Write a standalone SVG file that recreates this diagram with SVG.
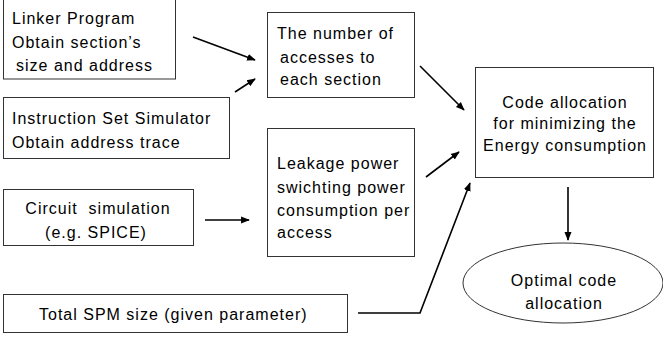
<svg xmlns="http://www.w3.org/2000/svg" width="663" height="340" viewBox="0 0 663 340">
<style>
.box{fill:#fff;stroke:#333;stroke-width:1}
.t{font-family:"Liberation Sans",Arial,sans-serif;font-size:16px;fill:#000;letter-spacing:1px}
.c{text-anchor:middle}
.ln{fill:none;stroke:#000;stroke-width:1.6}
</style>
<defs>
<marker id="ah" viewBox="0 0 10 10" refX="9" refY="5" markerWidth="5.5" markerHeight="5.5" orient="auto" markerUnits="strokeWidth">
<path d="M0,1 L10,5 L0,9 z" fill="#000"/>
</marker>
</defs>
<rect width="663" height="340" fill="#fff"/>
<g id="linker">
<rect class="box" x="3.5" y="-1" width="172" height="80"/>
<text class="t" x="12" y="24">Linker Program</text>
<text class="t" x="12" y="48">Obtain section’s</text>
<text class="t" x="16" y="71">size and address</text>
</g>
<g id="iss">
<rect class="box" x="3.5" y="97.5" width="226" height="61"/>
<text class="t" x="12" y="124">Instruction Set Simulator</text>
<text class="t" x="12" y="148">Obtain address trace</text>
</g>
<g id="accesses">
<rect class="box" x="267.5" y="12.5" width="147" height="85"/>
<text class="t" x="277" y="39">The number of</text>
<text class="t" x="280" y="63">accesses to</text>
<text class="t" x="280" y="85">each section</text>
</g>
<g id="leakage">
<rect class="box" x="267.5" y="128.5" width="147" height="128"/>
<text class="t" x="277" y="169">Leakage power</text>
<text class="t" x="277" y="193">swichting power</text>
<text class="t" x="277" y="216">consumption per</text>
<text class="t" x="277" y="238">access</text>
</g>
<g id="codealloc">
<rect class="box" x="475.5" y="67.5" width="178" height="110"/>
<text class="t c" x="565" y="108">Code allocation</text>
<text class="t c" x="565" y="129">for minimizing the</text>
<text class="t c" x="565" y="151">Energy consumption</text>
</g>
<g id="circuit">
<rect class="box" x="3.5" y="189.5" width="190" height="56"/>
<text class="t c" x="98" y="214" xml:space="preserve">Circuit  simulation</text>
<text class="t c" x="96" y="238">(e.g. SPICE)</text>
</g>
<g id="spm">
<rect class="box" x="3.5" y="294.5" width="344" height="38"/>
<text class="t" x="39" y="320">Total SPM size (given parameter)</text>
</g>
<g id="optimal">
<ellipse class="box" cx="563" cy="283" rx="100" ry="40"/>
<text class="t c" x="564" y="286">Optimal code</text>
<text class="t c" x="564" y="309">allocation</text>
</g>
<g id="connectors">
<line class="ln" x1="193" y1="37" x2="255" y2="60" marker-end="url(#ah)"/>
<line class="ln" x1="235" y1="92" x2="255" y2="79" marker-end="url(#ah)"/>
<line class="ln" x1="420" y1="66" x2="464" y2="110" marker-end="url(#ah)"/>
<line class="ln" x1="426" y1="177" x2="459" y2="152" marker-end="url(#ah)"/>
<line class="ln" x1="568" y1="187" x2="568" y2="240" marker-end="url(#ah)"/>
<line class="ln" x1="205" y1="220" x2="249" y2="220" marker-end="url(#ah)"/>
<polyline class="ln" points="358,313 420,313 470,183" marker-end="url(#ah)"/>
</g>
</svg>
